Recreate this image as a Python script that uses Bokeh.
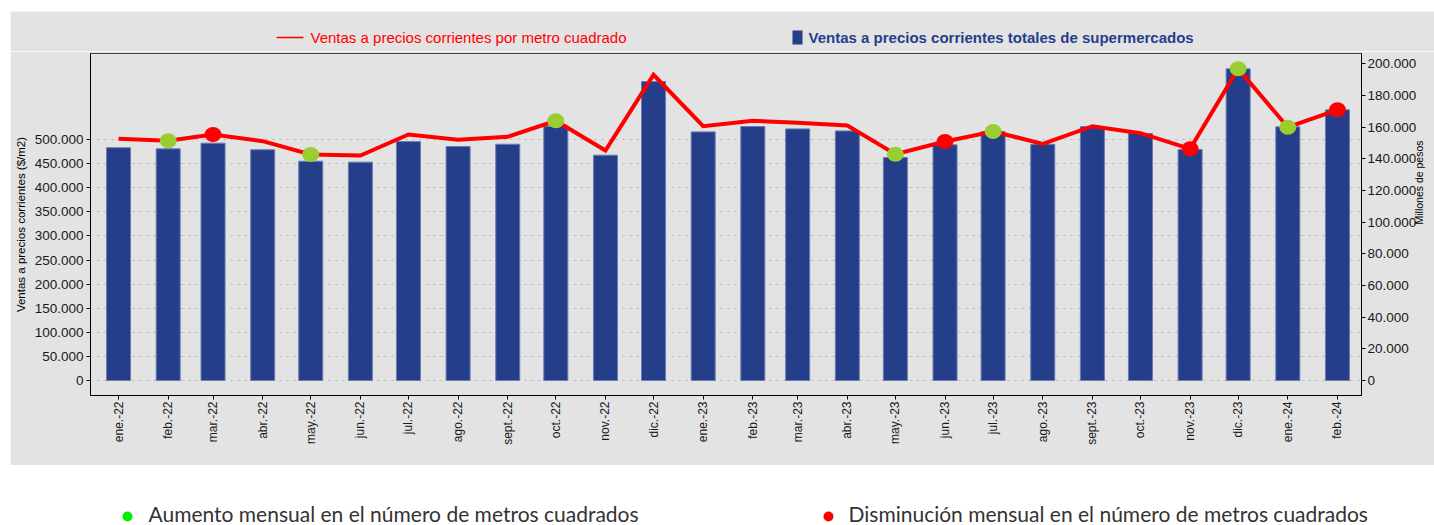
import math
import pandas as pd
from bokeh.plotting import figure
from bokeh.models import Range1d, LinearAxis, FixedTicker, ColumnDataSource
from bokeh.embed import file_html
from bokeh.resources import INLINE
from bokeh.core.properties import value

# ---------------- data ----------------
meses = ["ene.-22", "feb.-22", "mar.-22", "abr.-22", "may.-22", "jun.-22", "jul.-22",
         "ago.-22", "sept.-22", "oct.-22", "nov.-22", "dic.-22",
         "ene.-23", "feb.-23", "mar.-23", "abr.-23", "may.-23", "jun.-23", "jul.-23",
         "ago.-23", "sept.-23", "oct.-23", "nov.-23", "dic.-23",
         "ene.-24", "feb.-24"]
fecha_inicio = "2022-01-01"

# Ventas a precios corrientes totales de supermercados (millones de pesos)
ventas_totales = [147000, 146300, 149900, 145700, 138500, 137900, 150900, 147800, 149200,
                  160600, 142300, 188800,
                  157000, 160400, 158900, 157600, 140800, 148800, 157200, 149200, 160400,
                  156000, 145900, 196800,
                  160200, 170900]

# Ventas a precios corrientes por metro cuadrado ($/m2)
ventas_m2 = [501500, 497300, 510400, 496500, 468900, 466800, 510400, 499400, 505600,
             538800, 477200, 634200,
             527600, 538800, 534600, 529000, 469500, 495900, 516600, 491000, 527600,
             513100, 480700, 646700,
             525500, 561600]

# cambio mensual en el numero de metros cuadrados
cambio_m2 = ["", "aumento", "disminucion", "", "aumento", "", "", "", "",
             "aumento", "", "",
             "", "", "", "", "aumento", "disminucion", "aumento", "", "",
             "", "disminucion", "aumento",
             "aumento", "disminucion"]

ticks_izq = list(range(0, 500001, 50000))
ticks_der = list(range(0, 200001, 20000))

titulo_linea = "Ventas a precios corrientes por metro cuadrado"
titulo_barras = "Ventas a precios corrientes totales de supermercados"
titulo_eje_izq = "Ventas a precios corrientes ($/m2)"
titulo_eje_der = "Millones de pesos"
leyenda_abajo = ["Aumento mensual en el número de metros cuadrados",
                 "Disminución mensual en el número de metros cuadrados"]

# ---------------- build ----------------
fechas = pd.date_range(fecha_inicio, periods=len(meses), freq="MS")
xdias = [int((d - fechas[0]).days) for d in fechas]

src = ColumnDataSource(dict(x=xdias, totales=ventas_totales, m2=ventas_m2))

def fmt(v):
    return f"{v:,}".replace(",", ".")

GREY = "#e3e3e3"
BLUE = "#253E8A"
RED = "#ff0000"
FONT = "Liberation Sans"

# ---- top legend strip (page y 11..51) ----
top = figure(width=1424, height=40, x_range=Range1d(0, 1424), y_range=Range1d(0, 40),
             output_backend="svg", toolbar_location=None, min_border=0,
             x_axis_location=None, y_axis_location=None, outline_line_color=None,
             background_fill_color=GREY, border_fill_color=GREY, margin=(11, 0, 0, 10))
top.grid.visible = False
top.segment(x0=[266], y0=[14], x1=[293], y1=[14], line_color=RED, line_width=1.5)
top.text(x=[300], y=[14], text=[titulo_linea], text_font=value(FONT), text_font_size="15px",
         text_color=RED, text_baseline="middle", text_align="left")
top.quad(left=[782], right=[792], bottom=[7], top=[21], fill_color=BLUE, line_color=None)
top.text(x=[798], y=[14], text=[titulo_barras], text_font=value(FONT), text_font_size="15px",
         text_font_style="bold", text_color=BLUE, text_baseline="middle", text_align="left")

# ---- main chart (page y 51..465) ----
p = figure(width=1424, height=414,
           x_range=Range1d(-17.5, 776.0), y_range=Range1d(-31100, 678400),
           output_backend="svg", toolbar_location=None,
           min_border_left=80, min_border_right=40, min_border_top=2, min_border_bottom=70,
           background_fill_color=GREY, border_fill_color=GREY,
           outline_line_color="#444444", margin=(0, 0, 0, 10))
p.extra_y_ranges = {"right": Range1d(-9470, 206500)}

p.xgrid.visible = False
p.ygrid.ticker = FixedTicker(ticks=ticks_izq)
p.ygrid.grid_line_color = "#b5b5b5"
p.ygrid.grid_line_dash = "2 5"
p.ygrid.grid_line_width = 1

ya = p.yaxis[0]
ya.ticker = FixedTicker(ticks=ticks_izq)
ya.major_label_overrides = {t: fmt(t) for t in ticks_izq}
ya.axis_label = titulo_eje_izq

ra = LinearAxis(y_range_name="right", ticker=FixedTicker(ticks=ticks_der),
                major_label_overrides={t: fmt(t) for t in ticks_der},
                axis_label=titulo_eje_der)
p.add_layout(ra, "right")

for ax in (ya, ra):
    ax.major_label_text_font = FONT
    ax.major_label_text_font_size = "13.5px"
    ax.major_label_text_color = "#1a1a1a"
    ax.major_label_standoff = 3
    ax.axis_label_text_font = FONT
    ax.axis_label_text_font_style = "normal"
    ax.axis_label_text_color = "#000000"
    ax.minor_tick_line_color = None
    ax.major_tick_in = 0
    ax.major_tick_out = 4
    ax.axis_line_color = "#000000"
    ax.major_tick_line_color = "#000000"
ya.axis_label_text_font_size = "11.5px"
ya.axis_label_standoff = 5
ra.axis_label_text_font_size = "10.5px"
ra.axis_label_standoff = 0
ra.major_label_standoff = 2
ra.axis_label_orientation = math.pi / 2

xa = p.xaxis[0]
xa.ticker = FixedTicker(ticks=xdias)
xa.major_label_overrides = {x: m for x, m in zip(xdias, meses)}
xa.major_label_orientation = math.pi / 2
xa.major_label_text_font = FONT
xa.major_label_text_font_size = "12px"
xa.major_label_text_color = "#1a1a1a"
xa.major_label_standoff = 2
xa.minor_tick_line_color = None
xa.major_tick_in = 0
xa.major_tick_out = 4
xa.axis_line_color = "#000000"
xa.major_tick_line_color = "#000000"

bars = p.vbar(x="x", top="totales", bottom=0, width=15, source=src, y_range_name="right",
              fill_color=BLUE, line_color="#6b7db3", line_width=1)

p.line(x="x", y="m2", source=src, line_color=RED, line_width=4, line_join="miter")

up_x = [x for x, c in zip(xdias, cambio_m2) if c == "aumento"]
up_y = [v for v, c in zip(ventas_m2, cambio_m2) if c == "aumento"]
dn_x = [x for x, c in zip(xdias, cambio_m2) if c == "disminucion"]
dn_y = [v for v, c in zip(ventas_m2, cambio_m2) if c == "disminucion"]
p.ellipse(x=up_x, y=up_y, width=17, height=15, width_units="screen", height_units="screen",
          fill_color="#9ACD32", line_color=None)
p.ellipse(x=dn_x, y=dn_y, width=17, height=15, width_units="screen", height_units="screen",
          fill_color=RED, line_color=None)

# ---- bottom legend (page y 465..525) ----
b = figure(width=1434, height=60, x_range=Range1d(0, 1434), y_range=Range1d(0, 60),
           output_backend="svg", toolbar_location=None, min_border=0,
           x_axis_location=None, y_axis_location=None, outline_line_color=None,
           background_fill_color="white", border_fill_color="white")
b.grid.visible = False
b.scatter(x=[127, 828], y=[9, 9], size=10, marker="circle",
          fill_color=["#00ee00", RED], line_color=None)
b.text(x=[148, 848], y=[12, 12], text=leyenda_abajo, text_font=value("Lato"),
       text_font_size="21px", text_color="#333333", text_baseline="middle",
       text_align="left")

open("out.html", "w").write(file_html([top, p, b], INLINE))
